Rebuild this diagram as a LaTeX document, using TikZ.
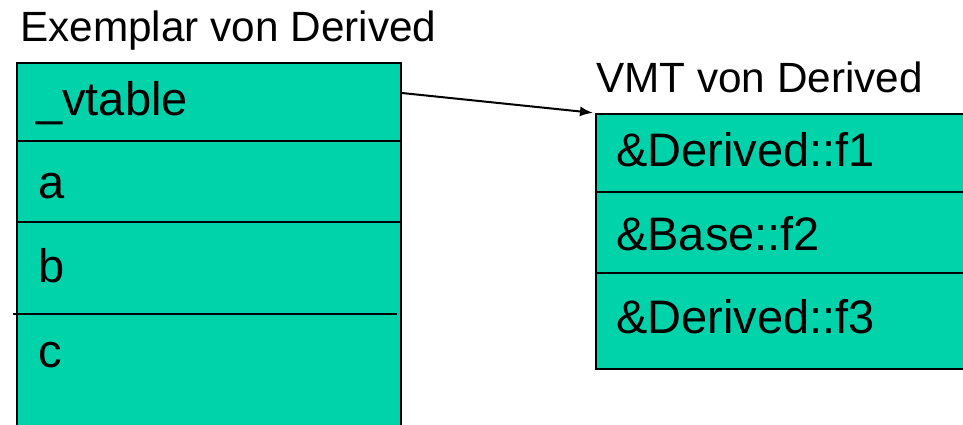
\documentclass[tikz,border=0pt]{standalone}
\usepackage{fontspec}
\setmainfont{Liberation Sans}
\usetikzlibrary{arrows.meta}
\definecolor{cellfill}{RGB}{0,210,170}
\tikzset{
  memblock/.style={draw=black, line width=2pt, fill=cellfill, rectangle, inner sep=0pt, anchor=north west},
  divider/.style={draw=black, line width=2pt},
  title/.style={font=\fontsize{42.3}{46}\selectfont, anchor=base west, inner sep=0pt},
  entry/.style={font=\fontsize{47}{51}\selectfont, anchor=base west, inner sep=0pt},
  pointer/.style={draw=black, line width=2pt, -{Latex[length=13pt,width=10pt]}, shorten >=2pt}
}
\begin{document}
\begin{tikzpicture}[x=1pt, y=-1pt]
  \useasboundingbox (0,0) rectangle (963,424);
  \clip (0,0) rectangle (963,424);

  % object layout
  \node[title] (insttitle) at (20,41) {Exemplar von Derived};
  \node[memblock, minimum width=384pt, minimum height=380pt] (inst) at (16,62) {};
  \draw[divider] (16,141) -- (400,141);
  \draw[divider] (16,222) -- (400,222);
  \draw[divider] (13,314) -- (397,314);
  \node[entry] (fvt) at (36,115) {\_vtable};
  \node[entry] (fa) at (38,198) {a};
  \node[entry] (fb) at (38,282) {b};
  \node[entry] (fc) at (38,367) {c};

  % virtual method table
  \node[title] (vmttitle) at (596,92) {VMT von Derived};
  \node[memblock, minimum width=400pt, minimum height=255pt] (vmt) at (595,113) {};
  \draw[divider] (595,192) -- (990,192);
  \draw[divider] (595,273) -- (990,273);
  \node[entry] (m1) at (616,166) {\&Derived::f1};
  \node[entry] (m2) at (616,250) {\&Base::f2};
  \node[entry] (m3) at (616,333) {\&Derived::f3};

  % vtable pointer
  \coordinate (vptr) at (inst.north east |- 0,93);
  \draw[pointer] (vptr) -- (vmt.north west);
\end{tikzpicture}
\end{document}
